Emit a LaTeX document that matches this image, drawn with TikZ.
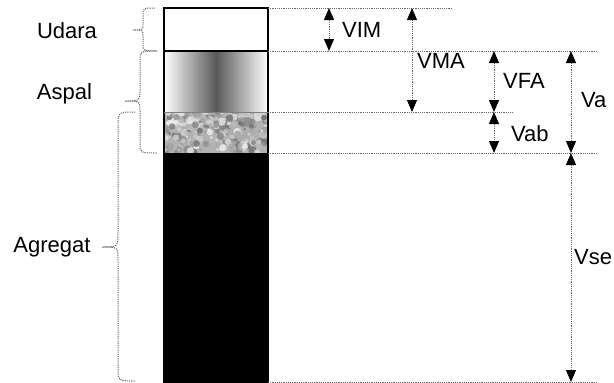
\documentclass[tikz,border=0pt]{standalone}
\usepackage{fontspec}
\setmainfont{Liberation Sans}
\usetikzlibrary{arrows.meta}
\begin{document}
\begin{tikzpicture}[x=1pt,y=-1pt,
  guide/.style={black!60, line width=1pt, dash pattern=on 1.2pt off 1pt},
  tipm/.tip={Triangle[width=10pt,length=12pt,color=black]},
  dim/.style={guide, tipm-tipm},
  bracepath/.style={black!60, line width=1pt, dash pattern=on 1.2pt off 1pt},
  lab/.style={font=\fontsize{22}{26}\selectfont, inner sep=0pt, text=black}]
\useasboundingbox (0,0) rectangle (614,383);

% column layers
\fill[white] (164,8) rectangle (268,51);
\shade[left color=white, right color=white, middle color=black!65] (164,51) rectangle (268,112);
\begin{scope}
  \clip (164,112) rectangle (268,153);
  \fill[black!30] (164,112) rectangle (268,153);
  \pgfmathsetseed{11}
  \foreach \i in {1,...,260}{
    \pgfmathsetmacro\px{164+104*rnd}
    \pgfmathsetmacro\py{112+41*rnd}
    \pgfmathsetmacro\sh{int(5+55*rnd)}
    \pgfmathsetmacro\rr{1.5+3*rnd}
    \fill[black!\sh, opacity=0.8] (\px,\py) circle[radius=\rr pt];
  }
\end{scope}
\fill[black] (164,153) rectangle (268,382);
\draw[black, line width=1.2pt] (164,8) rectangle (268,382);
\draw[black, line width=1.2pt] (164,51) -- (268,51);
\draw[gray, line width=0.8pt] (164,112) -- (268,112);

% level guides
\coordinate (l0a) at (268,8);   \coordinate (l0b) at (452,8);
\coordinate (l1a) at (268,51);  \coordinate (l1b) at (597,51);
\coordinate (l2a) at (268,112); \coordinate (l2b) at (513,112);
\coordinate (l3a) at (268,153); \coordinate (l3b) at (597,153);
\coordinate (l4a) at (268,382); \coordinate (l4b) at (597,382);
\draw[guide] (l0a) -- (l0b);
\draw[guide] (l1a) -- (l1b);
\draw[guide] (l2a) -- (l2b);
\draw[guide] (l3a) -- (l3b);
\draw[guide] (l4a) -- (l4b);

% dimension arrows
\coordinate (vimT) at (329,8);   \coordinate (vimB) at (329,51);
\coordinate (vmaT) at (412,8);   \coordinate (vmaB) at (412,112);
\coordinate (vfaT) at (494,51);  \coordinate (vfaB) at (494,112);
\coordinate (vabT) at (494,112); \coordinate (vabB) at (494,153);
\coordinate (vaT)  at (571,51);  \coordinate (vaB)  at (571,153);
\coordinate (vseT) at (571,153); \coordinate (vseB) at (571,382);
\draw[dim] (vimT) -- (vimB);
\draw[dim] (vmaT) -- (vmaB);
\draw[dim] (vfaT) -- (vfaB);
\draw[dim] (vabT) -- (vabB);
\draw[dim] (vaT) -- (vaB);
\draw[dim] (vseT) -- (vseB);

\node[lab, anchor=west] (tvim) at (342,30) {VIM};
\node[lab, anchor=west] (tvma) at (417,61) {VMA};
\node[lab, anchor=west] (tvfa) at (503,81) {VFA};
\node[lab, anchor=west] (tvab) at (511,134) {Vab};
\node[lab, anchor=west] (tva)  at (581,100) {Va};
\node[lab, anchor=west] (tvse) at (574,257) {Vse};

% component braces
\draw[bracepath] (155,8) .. controls (143,8) .. (143,15) -- (143,23)
  .. controls (143,30) .. (133,30) .. controls (143,30) .. (143,37) -- (143,44)
  .. controls (143,51) .. (157,51);
\draw[bracepath] (157,51) .. controls (140,51) .. (140,61) -- (140,91)
  .. controls (140,101) .. (125,101) .. controls (140,101) .. (140,111) -- (140,143)
  .. controls (140,153) .. (157,153);
\draw[bracepath] (135,112) .. controls (118,112) .. (118,126) -- (118,233)
  .. controls (118,247) .. (102,247) .. controls (118,247) .. (118,261) -- (118,367)
  .. controls (118,381) .. (135,381);

\node[lab] (udara) at (67,31) {Udara};
\node[lab] (aspal) at (64.5,94) {Aspal};
\node[lab] (agregat) at (52,247) {Agregat};
\end{tikzpicture}
\end{document}
